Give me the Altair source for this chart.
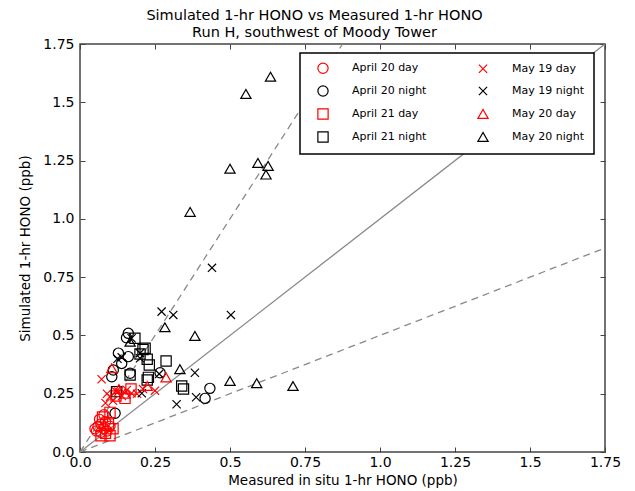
import altair as alt
import pandas as pd

# ---- data ----
series_names = ["April 20 day", "April 20 night", "April 21 day", "April 21 night",
                "May 19 day", "May 19 night", "May 20 day", "May 20 night"]
series_colors = ["#ff0000", "#000000", "#ff0000", "#000000",
                 "#ff0000", "#000000", "#ff0000", "#000000"]
X_PATH = "M-0.8,-0.8L0.8,0.8M-0.8,0.8L0.8,-0.8"
series_shapes = ["circle", "circle", "square", "square",
                 X_PATH, X_PATH, "triangle-up", "triangle-up"]

apr20_day_x = [0.05, 0.055, 0.06, 0.07, 0.07, 0.08, 0.085, 0.09, 0.065, 0.10, 0.08]
apr20_day_y = [0.10, 0.09, 0.11, 0.085, 0.12, 0.10, 0.13, 0.09, 0.14, 0.11, 0.16]

apr20_night_x = [0.161, 0.128, 0.161, 0.139, 0.111, 0.106, 0.167, 0.117, 0.433, 0.417, 0.267, 0.155]
apr20_night_y = [0.509, 0.424, 0.409, 0.380, 0.352, 0.323, 0.338, 0.166, 0.273, 0.230, 0.340, 0.490]

apr21_day_x = [0.07, 0.085, 0.10, 0.095, 0.11, 0.075, 0.10, 0.12, 0.15, 0.17]
apr21_day_y = [0.07, 0.08, 0.07, 0.12, 0.10, 0.15, 0.17, 0.24, 0.23, 0.27]

apr21_night_x = [0.183, 0.217, 0.224, 0.231, 0.228, 0.224, 0.287, 0.339, 0.345, 0.167, 0.122, 0.200, 0.210]
apr21_night_y = [0.488, 0.445, 0.398, 0.373, 0.320, 0.309, 0.390, 0.283, 0.270, 0.330, 0.259, 0.420, 0.440]

may19_day_x = [0.072, 0.085, 0.10, 0.11, 0.128, 0.14, 0.156, 0.172, 0.19, 0.21, 0.25, 0.12, 0.09]
may19_day_y = [0.312, 0.210, 0.237, 0.220, 0.259, 0.240, 0.266, 0.252, 0.250, 0.270, 0.263, 0.260, 0.250]

may19_night_x = [0.272, 0.311, 0.503, 0.44, 0.383, 0.322, 0.387, 0.264, 0.206, 0.200, 0.200, 0.172, 0.139, 0.125]
may19_night_y = [0.602, 0.588, 0.588, 0.79, 0.340, 0.205, 0.235, 0.335, 0.252, 0.424, 0.402, 0.488, 0.406, 0.400]

may20_day_x = [0.106, 0.224, 0.287, 0.15, 0.13]
may20_day_y = [0.359, 0.283, 0.320, 0.25, 0.27]

may20_night_x = [0.635, 0.553, 0.593, 0.627, 0.620, 0.500, 0.367, 0.383, 0.283, 0.333, 0.500, 0.589, 0.710, 0.167]
may20_night_y = [1.610, 1.536, 1.240, 1.227, 1.190, 1.215, 1.030, 0.498, 0.535, 0.355, 0.305, 0.295, 0.283, 0.473]

one_to_one_x = [0.0, 1.75]
one_to_one_y = [0.0, 1.75]
two_to_one_x = [0.0, 0.875]
two_to_one_y = [0.0, 1.75]
one_to_two_x = [0.0, 1.75]
one_to_two_y = [0.0, 0.875]

tick_values = [0.0, 0.25, 0.5, 0.75, 1.0, 1.25, 1.5, 1.75]

# ---- tables ----
groups = [
    (apr20_day_x, apr20_day_y), (apr20_night_x, apr20_night_y),
    (apr21_day_x, apr21_day_y), (apr21_night_x, apr21_night_y),
    (may19_day_x, may19_day_y), (may19_night_x, may19_night_y),
    (may20_day_x, may20_day_y), (may20_night_x, may20_night_y),
]
rows = []
for name, (xs, ys) in zip(series_names, groups):
    for a, b in zip(xs, ys):
        rows.append({"x": a, "y": b, "series": name})
points_df = pd.DataFrame(rows)

lines_df = pd.DataFrame(
    [{"x": a, "y": b, "line": "1:1"} for a, b in zip(one_to_one_x, one_to_one_y)]
    + [{"x": a, "y": b, "line": "2:1"} for a, b in zip(two_to_one_x, two_to_one_y)]
    + [{"x": a, "y": b, "line": "1:2"} for a, b in zip(one_to_two_x, one_to_two_y)]
)

xscale = alt.Scale(domain=[0, 1.75], nice=False, zero=False)
yscale = alt.Scale(domain=[0, 1.75], nice=False, zero=False)

FRAME = "#444444"

axis_common = dict(
    values=tick_values, grid=False, domain=False, ticks=True, tickSize=5,
    tickColor=FRAME, tickWidth=1, offset=-5, labelFlush=False, format=".4~f",
)
label_expr = ("datum.value == 0 ? '0.0' : datum.value == 0.5 ? '0.5' : "
              "datum.value == 1 ? '1.0' : datum.value == 1.5 ? '1.5' : datum.label")

x_bottom = alt.Axis(title="Measured in situ 1-hr HONO (ppb)", labelExpr=label_expr,
                    labelPadding=3, titlePadding=4, **axis_common)
y_left = alt.Axis(title="Simulated 1-hr HONO (ppb)", labelExpr=label_expr,
                  labelPadding=6, titlePadding=10, **axis_common)
x_top = alt.Axis(orient="top", labels=False, title=None, **axis_common)
y_right = alt.Axis(orient="right", labels=False, title=None, **axis_common)

solid = alt.Chart(lines_df).transform_filter(alt.datum.line == "1:1").mark_line(
    color="#888888", strokeWidth=1.3
).encode(
    x=alt.X("x:Q", scale=xscale, axis=x_top),
    y=alt.Y("y:Q", scale=yscale, axis=y_right),
    detail="line:N",
)

dashed = alt.Chart(lines_df).transform_filter(alt.datum.line != "1:1").mark_line(
    color="#888888", strokeWidth=1.3, strokeDash=[7, 5]
).encode(
    x=alt.X("x:Q", scale=xscale, axis=None),
    y=alt.Y("y:Q", scale=yscale, axis=None),
    detail="line:N",
)

legend = alt.Legend(title=None, columns=2)

points = alt.Chart(points_df).mark_point(filled=False, size=105, strokeWidth=1.2, opacity=1).encode(
    x=alt.X("x:Q", scale=xscale, axis=x_bottom),
    y=alt.Y("y:Q", scale=yscale, axis=y_left),
    color=alt.Color("series:N", scale=alt.Scale(domain=series_names, range=series_colors), legend=legend),
    shape=alt.Shape("series:N", scale=alt.Scale(domain=series_names, range=series_shapes), legend=legend),
)

chart = alt.layer(solid, dashed, points).resolve_axis(
    x="independent", y="independent"
).properties(
    width=525,
    height=408,
    padding={"left": 72, "top": 36, "right": 22, "bottom": 45},
    autosize=alt.AutoSizeParams(type="none"),
    title=alt.TitleParams(
        text=["Simulated 1-hr HONO vs Measured 1-hr HONO", "Run H, southwest of Moody Tower"],
        font="DejaVu Sans", fontSize=14.5, fontWeight="normal", color="black",
        lineHeight=17, anchor="middle", dx=-28, offset=-3,
    ),
).configure_view(
    stroke=FRAME, strokeWidth=1.5
).configure_axis(
    labelFont="DejaVu Sans", labelFontSize=14, labelColor="black",
    titleFont="DejaVu Sans", titleFontSize=13.5, titleFontWeight="normal", titleColor="black",
).configure_legend(
    orient="none", legendX=220, legendY=9,
    strokeColor="black", fillColor="white", strokeWidth=1.5,
    padding=9, symbolOffset=8, rowPadding=7, columnPadding=42, labelOffset=23,
    labelFont="DejaVu Sans", labelFontSize=11, labelColor="black",
    symbolSize=105, symbolStrokeWidth=1.2, cornerRadius=0,
)

chart.save("out.html", embed_options={"renderer": "svg", "actions": False})
